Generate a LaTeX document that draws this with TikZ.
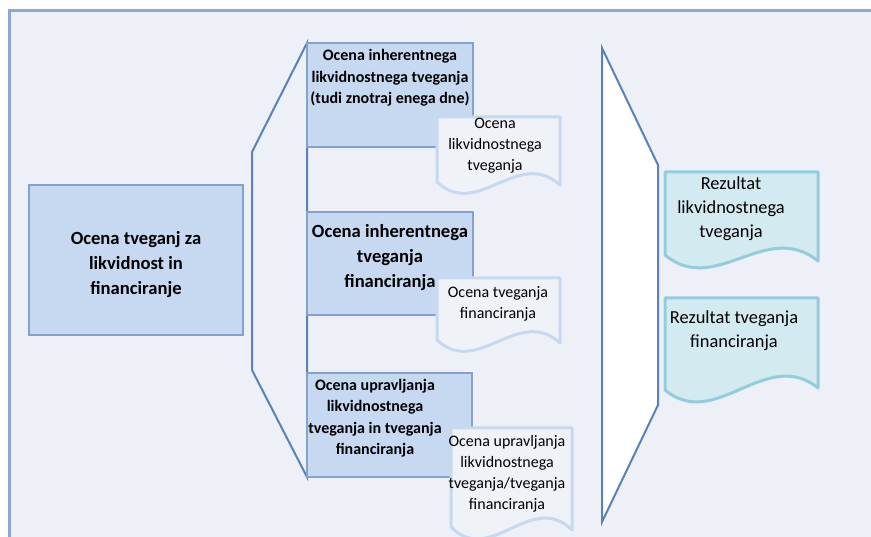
\documentclass[tikz,border=0pt]{standalone}
\usepackage{fontspec}
\setmainfont{Carlito}
\definecolor{bgc}{HTML}{EDF0F6}
\definecolor{framec}{HTML}{8DA9D1}
\definecolor{boxfill}{HTML}{C6D9F1}
\definecolor{boxline}{HTML}{84A2CC}
\definecolor{brline}{HTML}{5A82B9}
\definecolor{docline}{HTML}{C6D9F1}
\definecolor{docfill}{HTML}{EFF2F7}
\definecolor{resline}{HTML}{93CDDD}
\definecolor{resfill}{HTML}{D3EAF0}
\newcommand{\mydoc}[8]{% style, x, ytop, w, yl, yr, d, name
  \draw[#1] (#2,#3) coordinate (#8) -- ++(#4,0) -- (#2+#4,#6)
    .. controls (#2+0.66*#4,#6-#7) and (#2+0.33*#4,#5+#7) .. (#2,#5) -- cycle;}
\tikzset{
  boxst/.style={draw=boxline, fill=boxfill, line width=2.2pt, inner sep=0pt},
  brst/.style={draw=brline, line width=2pt, line join=miter},
  docst/.style={draw=docline, fill=docfill, line width=3pt, line join=round},
  resst/.style={draw=resline, fill=resfill, line width=3pt, line join=round},
  bigbold/.style={inner sep=0pt, align=center, font=\fontsize{18.6}{25}\selectfont\bfseries},
  smallbold/.style={inner sep=0pt, align=center, font=\fontsize{16}{21.5}\selectfont\bfseries},
  smallreg/.style={inner sep=0pt, align=center, font=\fontsize{16}{21}\selectfont},
  resreg/.style={inner sep=0pt, align=center, font=\fontsize{18.4}{24}\selectfont},
}
\begin{document}
\begin{tikzpicture}[x=1pt,y=-1pt]
\useasboundingbox (0,0) rectangle (871,537);
\clip (0,0) rectangle (871,537);
\fill[white] (0,0) rectangle (871,537);
% outer frame
\draw[draw=framec, fill=bgc, line width=2.4pt] (9.5,10.5) rectangle (900,600);
% left bracket
\draw[brst] (307,43) coordinate (bra) -- (252,152) coordinate (brb) -- (252,370) coordinate (brc) -- (307,477) coordinate (brd) -- cycle;
% right funnel
\draw[brst, fill=white] (602,48) coordinate (fa) -- (658,165) coordinate (fb) -- (658,405) coordinate (fc) -- (602,522) coordinate (fd) -- cycle;
% boxes
\node[boxst, minimum width=214pt, minimum height=150pt] (b0) at (136,260) {};
\node[boxst, minimum width=166pt, minimum height=104pt] (b1) at (390,95) {};
\node[boxst, minimum width=166pt, minimum height=103pt] (b2) at (390,263.5) {};
\node[boxst, minimum width=165pt, minimum height=104pt] (b3) at (389.5,425) {};
% box texts
\node[bigbold] (t0) at (136,265) {Ocena tveganj za\\likvidnost in\\financiranje};
\node[smallbold] (t1) at (390,78) {Ocena inherentnega\\likvidnostnega tveganja\\(tudi znotraj enega dne)};
\node[bigbold] (t2) at (390,258) {Ocena inherentnega\\tveganja\\financiranja};
\node[smallbold] (t3) at (375,418) {Ocena upravljanja\\likvidnostnega\\tveganja in tveganja\\financiranja};
% documents
\mydoc{docst}{437}{117}{123}{182}{185}{38}{d1}
\mydoc{docst}{437}{278}{123}{340}{343}{38}{d2}
\mydoc{docst}{451}{428}{121}{527}{530}{40}{d3}
\mydoc{resst}{665}{172}{153}{255}{261}{42}{r1}
\mydoc{resst}{665}{298}{153}{390}{388}{42}{r2}
% document texts
\node[smallreg] (dt1) at (495,146) {Ocena\\likvidnostnega\\tveganja};
\node[smallreg] (dt2) at (498,304) {Ocena tveganja\\financiranja};
\node[smallreg] (dt3) at (507,474) {Ocena upravljanja\\likvidnostnega\\tveganja/tveganja\\financiranja};
\node[resreg] (rt1) at (731,209) {Rezultat\\likvidnostnega\\tveganja};
\node[resreg] (rt2) at (734,331) {Rezultat tveganja\\financiranja};
\end{tikzpicture}
\end{document}
